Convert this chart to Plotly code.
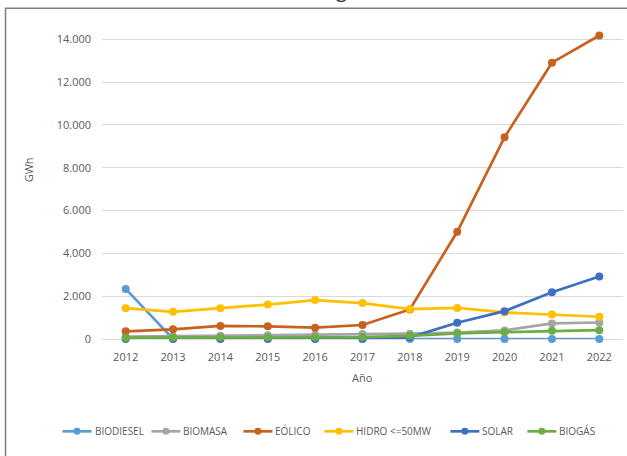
import plotly.graph_objects as go

years = [2012, 2013, 2014, 2015, 2016, 2017, 2018, 2019, 2020, 2021, 2022]
biodiesel = [2340, 0, 0, 0, 0, 0, 0, 0, 0, 0, 0]
biomasa = [110, 130, 150, 180, 200, 230, 250, 300, 400, 730, 770]
eolico = [360, 450, 610, 590, 530, 655, 1380, 5010, 9430, 12910, 14180]
hidro = [1440, 1270, 1440, 1610, 1820, 1680, 1400, 1450, 1240, 1140, 1040]
solar = [0, 10, 10, 10, 10, 10, 80, 760, 1300, 2180, 2920]
biogas = [60, 70, 80, 80, 80, 90, 150, 260, 320, 380, 410]

series_names = ["BIODIESEL", "BIOMASA", "EÓLICO", "HIDRO <=50MW", "SOLAR", "BIOGÁS"]
series_vals = [biodiesel, biomasa, eolico, hidro, solar, biogas]
colors = ["#5B9BD5", "#A5A5A5", "#C8601E", "#FFC000", "#3F6FC0", "#6CAE45"]

y_ticks = [0, 2000, 4000, 6000, 8000, 10000, 12000, 14000]
y_tick_text = ["0", "2.000", "4.000", "6.000", "8.000", "10.000", "12.000", "14.000"]

fig = go.Figure()
for name, vals, col in zip(series_names, series_vals, colors):
    fig.add_trace(go.Scatter(
        x=[str(y) for y in years], y=vals, name=name, mode="lines+markers",
        line=dict(color=col, width=2.7),
        marker=dict(color=col, size=8),
        cliponaxis=False, showlegend=False,
    ))

W, H = 627, 456
L, R, T, B = 101.5, 622.7, 33.9, 339.5

def px(x):
    return (x - L) / (R - L)

def py(y):
    return (B - y) / (B - T)

font_family = "Open Sans, Noto Sans, sans-serif"
legend_font = dict(family="Open Sans, sans-serif", size=10, color="#595959")

shapes = [
    dict(type="rect", xref="paper", yref="paper",
         x0=px(5), x1=px(700), y0=py(500), y1=py(8),
         line=dict(color="#7F7F7F", width=1.5), layer="below"),
]
annotations = [
    dict(text="Año", xref="paper", yref="paper", x=px(362), y=py(378),
         showarrow=False, font=dict(size=11, color="#595959"),
         xanchor="center", yanchor="middle"),
    dict(text="GWh", xref="paper", yref="paper", x=px(28), y=py(170),
         showarrow=False, textangle=-90, font=dict(size=11, color="#595959"),
         xanchor="center", yanchor="middle"),
    dict(text="g", xref="paper", yref="paper", x=px(341), y=py(5),
         showarrow=False, font=dict(size=20, color="#333333"),
         xanchor="center", yanchor="bottom"),
]

# manual legend (layout positions in pixels)
leg_x = [62, 151, 243, 324, 450, 527]
leg_y = 432
sym_w = 29
for name, col, x0 in zip(series_names, colors, leg_x):
    shapes.append(dict(type="line", xref="paper", yref="paper",
                       x0=px(x0), x1=px(x0 + sym_w), y0=py(leg_y), y1=py(leg_y),
                       line=dict(color=col, width=2.7)))
    cx = x0 + sym_w / 2
    shapes.append(dict(type="circle", xref="paper", yref="paper",
                       x0=px(cx - 3.5), x1=px(cx + 3.5),
                       y0=py(leg_y + 3.5), y1=py(leg_y - 3.5),
                       fillcolor=col, line=dict(color=col, width=0)))
    annotations.append(dict(text=name, xref="paper", yref="paper",
                            x=px(x0 + sym_w + 1), y=py(leg_y), showarrow=False,
                            xanchor="left", yanchor="middle",
                            font=legend_font))

fig.update_layout(
    width=W, height=H,
    margin=dict(l=L, r=W - R, t=T, b=H - B),
    paper_bgcolor="white", plot_bgcolor="white",
    font=dict(family=font_family, color="#595959", size=11),
    showlegend=False,
    xaxis=dict(
        type="category", range=[-0.5, 10.5], showgrid=False, showline=False,
        zeroline=False, ticks="", tickfont=dict(size=11, color="#595959"),
        ticklabelstandoff=10,
    ),
    yaxis=dict(
        range=[0, 14250], tickvals=y_ticks, ticktext=y_tick_text,
        showgrid=True, gridcolor="#D9D9D9", gridwidth=1, zeroline=True,
        zerolinecolor="#D9D9D9", zerolinewidth=1, showline=False, ticks="",
        tickfont=dict(size=11, color="#595959"), ticklabelstandoff=10,
    ),
    shapes=shapes,
    annotations=annotations,
)

fig.write_html("out.html")
